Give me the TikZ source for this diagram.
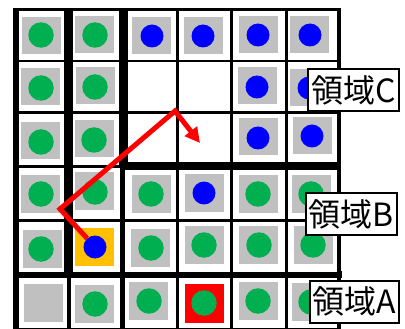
\documentclass[tikz,border=0pt]{standalone}
\usepackage{fontspec}
\newfontfamily\jpfont{Noto Sans CJK JP}
\usetikzlibrary{arrows.meta}
\definecolor{gridgrey}{HTML}{C0C0C0}
\definecolor{dotgreen}{HTML}{00B050}
\definecolor{dotblue}{HTML}{0000FF}
\definecolor{markyellow}{HTML}{FFC000}
\definecolor{markred}{HTML}{FF0000}
\begin{document}
\begin{tikzpicture}[x=1pt,y=-1pt,
  greysq/.style={fill=gridgrey},
  gdot/.style={circle,fill=dotgreen,minimum size=25.5pt,inner sep=0pt},
  bdot/.style={circle,fill=dotblue,minimum size=23pt,inner sep=0pt},
  lbl/.style={draw=black,line width=2pt,fill=white,font=\jpfont\fontsize{32}{36}\selectfont,inner xsep=3pt,inner ysep=0pt,minimum height=42pt},
  redline/.style={draw=markred,line width=5pt,line join=miter}]
\useasboundingbox (0,0) rectangle (405,329);
% black grid background
\fill[black] (13,8) rectangle (341,332);
\fill[black] (330,271) rectangle (342,278);
% white cells rows 1-3
\foreach \xa/\xb in {19/64,73/119}{
  \fill[white] (\xa,11) rectangle (\xb,60);
  \fill[white] (\xa,62) rectangle (\xb,111);
  \fill[white] (\xa,114) rectangle (\xb,165);}
\foreach \xa/\xb in {128/176,179/230,233/285,288/337}{
  \fill[white] (\xa,11) rectangle (\xb,60);
  \fill[white] (\xa,62) rectangle (\xb,111);
  \fill[white] (\xa,114) rectangle (\xb,162);}
% rows 4-5
\foreach \xa/\xb in {19/64,73/120}{
  \fill[white] (\xa,168) rectangle (\xb,219);
  \fill[white] (\xa,222) rectangle (\xb,272);}
\foreach \xa/\xb in {125/176,179/230,233/285,288/337}{
  \fill[white] (\xa,170) rectangle (\xb,219);
  \fill[white] (\xa,222) rectangle (\xb,272);}
% row 6
\foreach \xa/\xb in {19/67,71/120,125/176,179/230,233/285,288/337}{
  \fill[white] (\xa,278) rectangle (\xb,328);}
% grey squares
\foreach \xa/\ya in {22/17,75/16,132/17,184/17,239/16,290/16,
  21/68,76/67,238/67,290/69,
  21/122,75/120,239/118,293/117,
  21/175,75/172,132/175,185/174,239/175,292/175,
  23/230,131/229,185/226,239/226,294/226,
  24/284,75/285,129/282,239/282,292/283}{
  \fill[greysq] (\xa,\ya) rectangle ++(38.5,37.5);}
\fill[markyellow] (75,228) rectangle (114,266);
\fill[markred] (185,284) rectangle (224,323);
% dots
\node[gdot] (g11) at (41,35) {};
\node[gdot] (g12) at (95,35) {};
\node[bdot] (b13) at (152,36) {};
\node[bdot] (b14) at (203,36) {};
\node[bdot] (b15) at (258,35) {};
\node[bdot] (b16) at (310,35) {};
\node[gdot] (g21) at (41,88) {};
\node[gdot] (g22) at (95,87) {};
\node[bdot] (b25) at (257,87) {};
\node[bdot] (b26) at (309,88) {};
\node[gdot] (g31) at (41,142) {};
\node[gdot] (g32) at (94,140) {};
\node[bdot] (b35) at (258,138) {};
\node[bdot] (b36) at (312,136) {};
\node[gdot] (g41) at (41,194) {};
\node[gdot] (g42) at (95,192) {};
\node[gdot] (g43) at (151,194) {};
\node[bdot] (b44) at (204,193) {};
\node[gdot] (g45) at (258,194) {};
\node[gdot] (g46) at (311,194) {};
\node[gdot] (g51) at (41,249) {};
\node[bdot] (start) at (95,247) {};
\node[gdot] (g53) at (151,248) {};
\node[gdot] (g54) at (204,245) {};
\node[gdot] (g55) at (259,245) {};
\node[gdot] (g56) at (313,245) {};
\node[gdot] (g62) at (95,304) {};
\node[gdot] (g63) at (149,301) {};
\node[gdot] (g64) at (204,303) {};
\node[gdot] (g65) at (258,301) {};
\node[gdot] (g66) at (311,302) {};
% red path
\coordinate (turn1) at (60,209);
\coordinate (turn2) at (175,111);
\coordinate (goal) at (200,143);
\draw[redline,-{Triangle[length=15pt,width=15pt]}] (start) -- (turn1) -- (turn2) -- (goal);
% labels
\node[lbl] (lc) at (353.5,90) {領域C};
\node[lbl] (lb) at (351.5,214) {領域B};
\node[lbl] (la) at (354.5,301.5) {領域A};
\end{tikzpicture}
\end{document}
